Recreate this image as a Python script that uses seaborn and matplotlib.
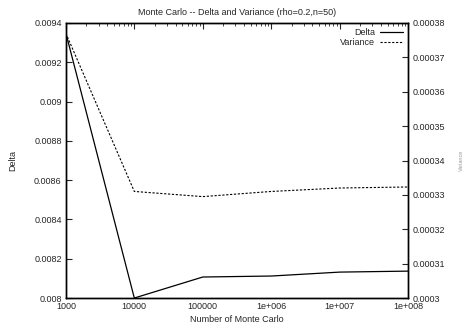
import numpy as np
import pandas as pd
import matplotlib
matplotlib.use("Agg")
import matplotlib.pyplot as plt
import matplotlib.ticker as mticker
import seaborn as sns

n_samples = [1000, 10000, 100000, 1000000, 10000000, 100000000]
delta = [0.009349, 0.008000, 0.008107, 0.008112, 0.008132, 0.008137]
variance = [0.000377, 0.000331, 0.0003295, 0.000331, 0.000332, 0.0003323]
x_labels = ["1000", "10000", "100000", "1e+006", "1e+007", "1e+008"]

df = pd.DataFrame({"n": n_samples, "Delta": delta, "Variance": variance})

sns.set_style("white")
plt.rcParams["font.family"] = ["Liberation Sans", "DejaVu Sans"]
plt.rcParams["font.size"] = 6.5

fig = plt.figure(figsize=(4.67, 3.33), dpi=100)
ax = fig.add_axes([0.141, 0.105, 0.733, 0.826])
ax2 = ax.twinx()

sns.lineplot(data=df, x="n", y="Delta", ax=ax, color="black", lw=0.9, label="Delta", legend=False)
sns.lineplot(data=df, x="n", y="Variance", ax=ax2, color="black", lw=0.8,
             linestyle=(0, (2, 1.5)), label="Variance", legend=False)

ax.set_xscale("log")
ax.set_xlim(1000, 1e8)
ax.set_ylim(0.008, 0.0094)
ax2.set_ylim(0.0003, 0.00038)
ax.set_xticks(n_samples)
ax.set_xticklabels(x_labels)
ax.xaxis.set_minor_locator(mticker.LogLocator(base=10, subs=np.arange(2, 10)))
ax.xaxis.set_minor_formatter(mticker.NullFormatter())
ax.set_yticks(np.arange(0.008, 0.00941, 0.0002))
ax.set_yticklabels(["0.008", "0.0082", "0.0084", "0.0086", "0.0088", "0.009", "0.0092", "0.0094"])
ax2.set_yticks(np.arange(0.0003, 0.000381, 0.00001))
ax2.set_yticklabels(["0.0003", "0.00031", "0.00032", "0.00033", "0.00034",
                     "0.00035", "0.00036", "0.00037", "0.00038"])

ax.tick_params(axis="both", which="major", direction="in", length=4, width=0.8,
               top=True, labelsize=6.5, pad=3)
ax.tick_params(axis="x", which="minor", direction="in", length=2, width=0.6, top=True)
ax2.tick_params(axis="y", direction="in", length=4, width=0.8, labelsize=6.5, pad=3)

for a in (ax, ax2):
    for s in a.spines.values():
        s.set_linewidth(1.0)
        s.set_color("black")

ax.set_xlabel("Number of Monte Carlo", fontsize=6.5, labelpad=3)
ax.set_ylabel("Delta", fontsize=6.5, labelpad=12)
ax2.set_ylabel("Variance", fontsize=4, color="#999999", labelpad=10)
ax.set_title("Monte Carlo -- Delta and Variance (rho=0.2,n=50)", fontsize=6.5, pad=6)

h1, l1 = ax.get_legend_handles_labels()
h2, l2 = ax2.get_legend_handles_labels()
ax2.legend(h1 + h2, l1 + l2, loc="upper right", frameon=False, markerfirst=False,
           fontsize=6.5, handlelength=2.5, handletextpad=0.6, labelspacing=0.1,
           borderaxespad=0.2)

fig.savefig("out.png", dpi=100)
